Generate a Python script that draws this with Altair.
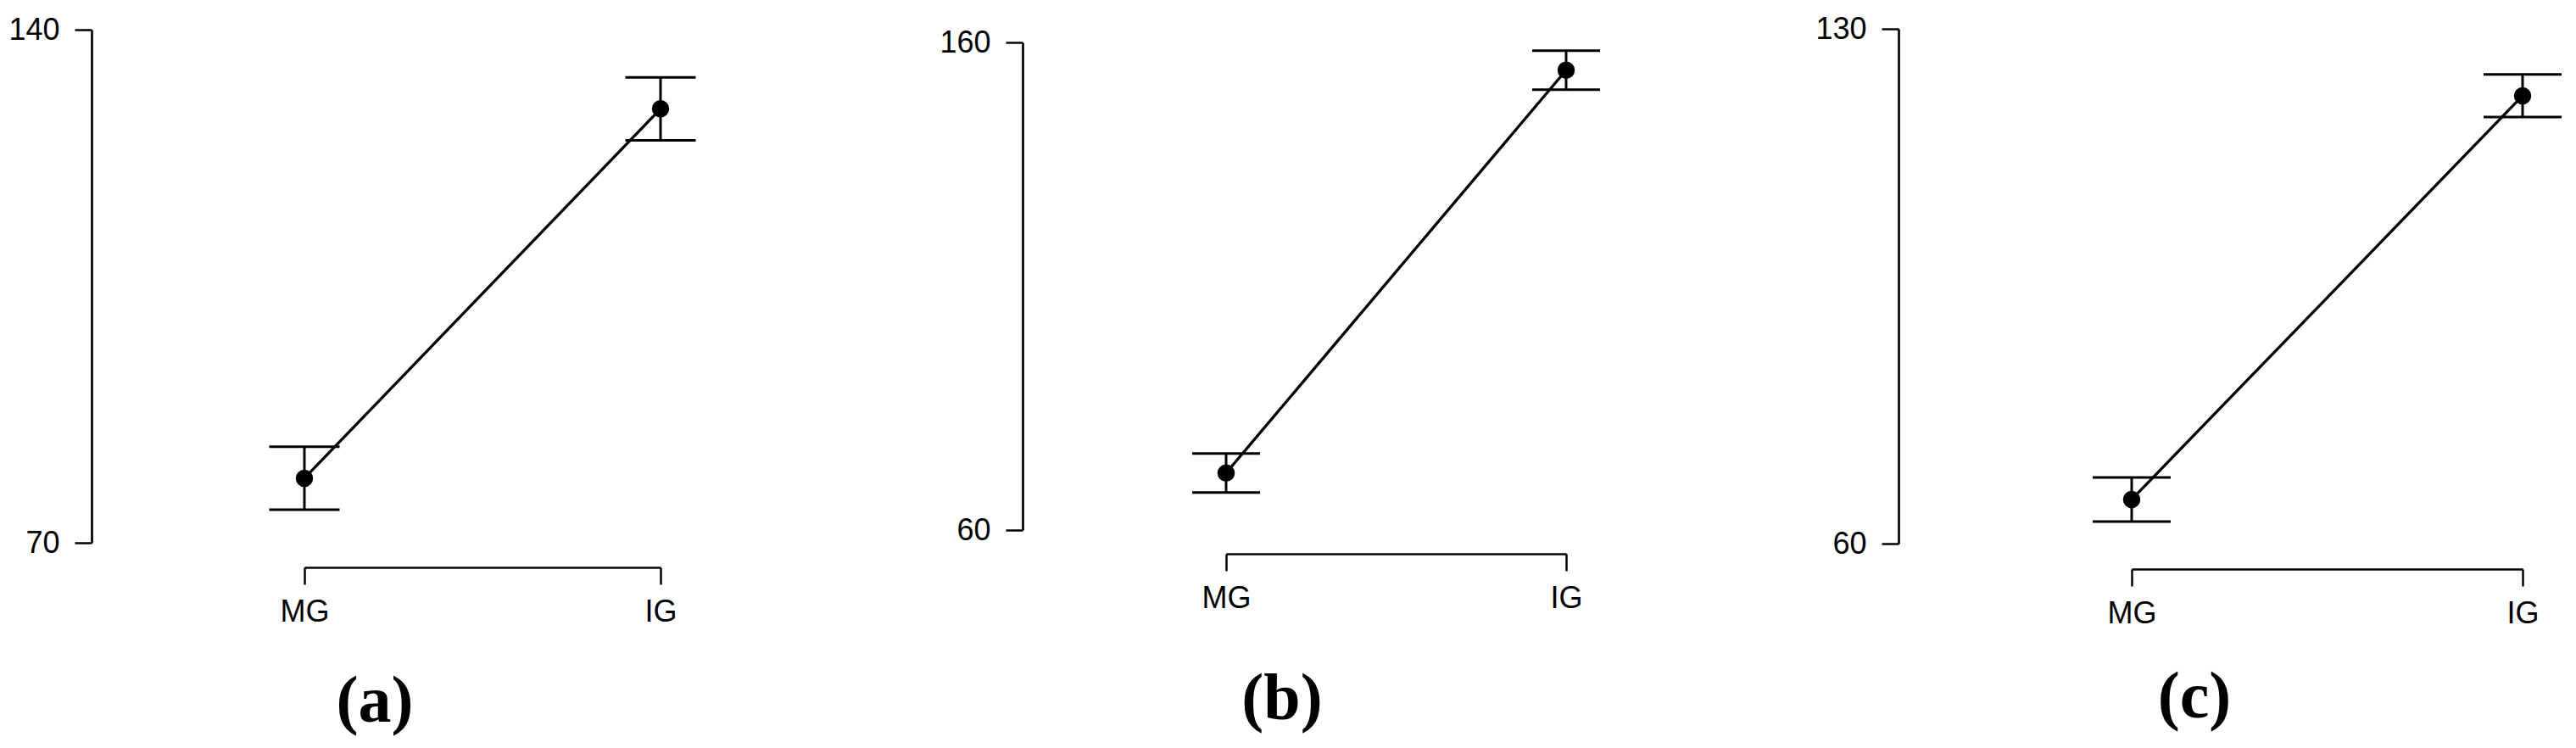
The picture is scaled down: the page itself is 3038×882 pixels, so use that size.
import altair as alt
import pandas as pd

groups = ["MG", "IG"]

a_means = [78.8, 129.2]
a_errs = [4.3, 4.3]
b_means = [71.7, 154.3]
b_errs = [4.0, 4.0]
c_means = [66.0, 120.9]
c_errs = [3.0, 2.9]

a_ticks = [70, 140]
b_ticks = [60, 160]
c_ticks = [60, 130]

panel_labels = ["(a)", "(b)", "(c)"]


def panel(means, errs, ticks, label, w, h, yoff, xoff, cap, tdx, toff):
    df = pd.DataFrame({
        "group": groups,
        "mean": means,
        "lo": [m - e for m, e in zip(means, errs)],
        "hi": [m + e for m, e in zip(means, errs)],
    })
    x = alt.X("group:N", sort=groups,
              scale=alt.Scale(type="point", padding=0),
              axis=alt.Axis(title=None, labelAngle=0, tickSize=20, offset=xoff,
                            labelPadding=15, labelBaseline="top"))
    yscale = alt.Scale(domain=ticks, nice=False, zero=False)
    yaxis = alt.Axis(values=ticks, title=None, tickSize=20, offset=yoff,
                     labelPadding=18, labelFlush=False)
    base = alt.Chart(df).encode(x=x)
    line = base.mark_line(color="black", strokeWidth=3.3).encode(
        y=alt.Y("mean:Q", scale=yscale, axis=yaxis))
    bars = base.mark_rule(color="black", strokeWidth=3).encode(
        y=alt.Y("lo:Q", scale=yscale, axis=yaxis), y2="hi:Q")
    cap_lo = base.mark_tick(color="black", thickness=3, size=cap, orient="horizontal", opacity=1).encode(
        y=alt.Y("lo:Q", scale=yscale, axis=yaxis))
    cap_hi = base.mark_tick(color="black", thickness=3, size=cap, orient="horizontal", opacity=1).encode(
        y=alt.Y("hi:Q", scale=yscale, axis=yaxis))
    pts = base.mark_circle(color="black", size=420, opacity=1).encode(
        y=alt.Y("mean:Q", scale=yscale, axis=yaxis))
    return alt.layer(line, bars, cap_lo, cap_hi, pts).properties(
        width=w, height=h,
        title=alt.TitleParams(text=label, orient="bottom", anchor="start", frame="group",
                              align="center", dx=tdx, offset=toff, baseline="alphabetic",
                              font="Liberation Serif", fontSize=78, fontWeight="bold",
                              color="black"))


pa = panel(a_means, a_errs, a_ticks, panel_labels[0], 420, 605, 251, 29, 83, 83, 112)
pb = panel(b_means, b_errs, b_ticks, panel_labels[1], 401, 575, 240, 28, 80, 66, 125)
pc = panel(c_means, c_errs, c_ticks, panel_labels[2], 461, 607, 275, 30, 92, 74, 105)

chart = alt.hconcat(pa, pb, pc, spacing=667, center=True, bounds="flush").configure_view(
    strokeWidth=0
).configure_axis(
    domainColor="black", domainWidth=2.7, tickColor="black", tickWidth=2.5,
    labelColor="black", labelFont="Liberation Sans", labelFontSize=36, grid=False
).properties(
    padding={"left": 1, "top": 8, "right": 5, "bottom": 5},
    background="white"
)

chart.save("out.html", embed_options={"renderer": "svg", "actions": False})
